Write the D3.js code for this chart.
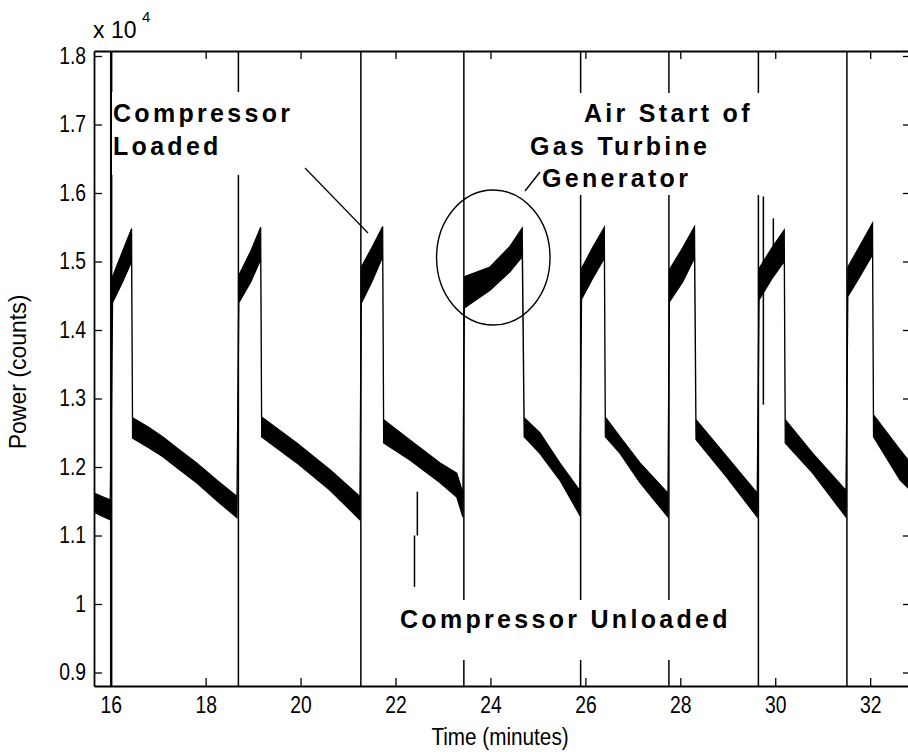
<!DOCTYPE html>
<html>
<head>
<meta charset="utf-8">
<script src="https://cdn.jsdelivr.net/npm/d3@7"></script>
<style>
body{margin:0;background:#fff}
svg text{font-family:"Liberation Sans Narrow","Liberation Sans",Arial,sans-serif;fill:#000}
.note{font-family:"Liberation Sans",Arial,sans-serif !important;font-weight:bold;font-size:25px;letter-spacing:3.3px}
.axis path,.axis line{stroke:#000}
</style>
</head>
<body>
<svg width="908" height="752"></svg>
<script>
//tick values
var xTicks = [16,18,20,22,24,26,28,30,32]
var yTicks = [9000,10000,11000,12000,13000,14000,15000,16000,17000,18000]

//power signal as a band: time (minutes), lower and upper edge (counts)
var sigT  = [15.65,15.82,15.99, 16.04,16.25,16.44, 16.46,16.80,17.10,17.45,17.81,18.25,18.66,
             18.70,18.95,19.16, 19.18,19.92,20.62,21.25,
             21.28,21.50,21.73, 21.75,22.31,22.94,23.29,23.42,
             23.45,23.99,24.41,24.67, 24.71,25.04,25.46,25.88,
             25.92,26.15,26.40, 26.42,26.73,27.15,27.74,
             27.77,28.05,28.30, 28.33,28.98,29.62,
             29.66,29.93,30.19, 30.21,30.79,31.49,
             31.53,31.80,32.05, 32.07,32.63,32.86]
var sigLo = [11340,11280,11230, 14400,14700,15000, 12420,12280,12150,11960,11770,11500,11260,
             14400,14700,15030, 12440,12060,11660,11230,
             14390,14700,15070, 12350,12100,11770,11560,11270,
             14320,14580,14850,15070, 12440,12200,11810,11300,
             14450,14750,15050, 12440,12200,11770,11270,
             14410,14700,15050, 12400,11850,11270,
             14440,14750,15000, 12350,11910,11270,
             14490,14800,15100, 12440,11810,11650]
var sigHi = [11620,11570,11520, 14780,15150,15480, 12720,12580,12440,12250,12060,11800,11570,
             14800,15150,15500, 12730,12350,11960,11570,
             14920,15200,15510, 12690,12390,12060,11910,11620,
             14780,14920,15220,15490, 12720,12500,12060,11660,
             14900,15200,15500, 12730,12440,12060,11620,
             14880,15200,15510, 12690,12150,11620,
             14900,15200,15460, 12690,12200,11660,
             14920,15250,15560, 12760,12250,12050]

//spikes: time, low and high value
var spikeT  = [16.00,16.02,18.69,21.27,22.40,22.46,23.44,25.90,27.76,29.645,29.75,29.96,31.51]
var spikeLo = [8700,8700,8700,8700,10250,11000,8700,8700,8700,8700,12910,14830,8700]
var spikeHi = [18200,18200,18200,18200,11000,11640,18200,18200,18200,18200,15950,15630,18200]

var svg = d3.select("svg")
var xScale = d3.scaleLinear().domain([15.648,32.86]).range([94,911])
var yScale = d3.scaleLinear().domain([8803,18073]).range([686,51])

svg.append("clipPath").attr("id","clip")
   .append("rect").attr("x",94).attr("y",51).attr("width",817).attr("height",635)

var plot = svg.append("g").attr("clip-path","url(#clip)")

var band = d3.area()
   .x(function(d){return xScale(sigT[d])})
   .y0(function(d){return yScale(sigLo[d])})
   .y1(function(d){return yScale(sigHi[d])})

plot.append("path")
   .datum(d3.range(sigT.length))
   .attr("d",band)
   .attr("fill","#000")
   .attr("stroke","#000")
   .attr("stroke-width",1.2)

plot.selectAll(".spike")
   .data(d3.range(spikeT.length))
   .enter().append("line")
   .attr("class","spike")
   .attr("x1",function(d){return xScale(spikeT[d])})
   .attr("x2",function(d){return xScale(spikeT[d])})
   .attr("y1",function(d){return yScale(spikeLo[d])})
   .attr("y2",function(d){return yScale(spikeHi[d])})
   .attr("stroke","#000")
   .attr("stroke-width",1.5)

//white boxes behind the notes
var boxes = [[112,92,195,83],[522,93,240,102],[395,600,340,60]]
boxes.forEach(function(b){
   svg.append("rect").attr("x",b[0]).attr("y",b[1]).attr("width",b[2]).attr("height",b[3]).attr("fill","#fff")
})

//notes
var notes = svg.append("g")
notes.append("text").attr("class","note").attr("x",113).attr("y",122).text("Compressor")
notes.append("text").attr("class","note").attr("x",113).attr("y",155).text("Loaded")
notes.append("text").attr("class","note").attr("x",584).attr("y",122).text("Air Start of")
notes.append("text").attr("class","note").attr("x",530).attr("y",155).text("Gas Turbine")
notes.append("text").attr("class","note").attr("x",542).attr("y",187).text("Generator")
notes.append("text").attr("class","note").attr("x",400).attr("y",628).text("Compressor Unloaded")

notes.append("line").attr("x1",305).attr("y1",168).attr("x2",368).attr("y2",233)
   .attr("stroke","#000").attr("stroke-width",1.2)
notes.append("line").attr("x1",525).attr("y1",191).attr("x2",540).attr("y2",172)
   .attr("stroke","#000").attr("stroke-width",1.4)

var cx = 24.06, cy = 15058
notes.append("ellipse")
   .attr("cx",xScale(cx)).attr("cy",yScale(cy))
   .attr("rx",xScale(cx+1.195)-xScale(cx))
   .attr("ry",yScale(cy-985)-yScale(cy))
   .attr("fill","none").attr("stroke","#000").attr("stroke-width",1.4)

//axes, ticks inside like matlab
var xAxis = d3.axisBottom(xScale).tickValues(xTicks).tickSizeInner(-8).tickSizeOuter(0).tickPadding(11)
var yAxis = d3.axisLeft(yScale).tickValues(yTicks).tickSizeInner(-8).tickSizeOuter(0).tickPadding(8)
   .tickFormat(function(d){return String(d/10000)})

svg.append("g").attr("class","axis").attr("transform","translate(0,686)").call(xAxis)
svg.append("g").attr("class","axis").attr("transform","translate(94,0)").call(yAxis)
svg.append("g").attr("class","axis").attr("transform","translate(0,51)")
   .call(d3.axisTop(xScale).tickValues(xTicks).tickSizeInner(-8).tickSizeOuter(0).tickFormat(""))
svg.append("g").attr("class","axis").attr("transform","translate(911,0)")
   .call(d3.axisRight(yScale).tickValues(yTicks).tickSizeInner(-8).tickSizeOuter(0).tickFormat(""))

svg.selectAll(".axis path").attr("stroke-width",1.8)
svg.selectAll(".axis line").attr("stroke-width",1.3)
svg.selectAll(".axis text").attr("font-size",23).attr("font-family",null)

//narrow the tick labels like the matlab font
svg.selectAll(".axis text").each(function(){
   var w = this.getComputedTextLength()
   d3.select(this).attr("textLength",w*0.84).attr("lengthAdjust","spacingAndGlyphs")
})

//labels
var xlab = svg.append("text").attr("x",500).attr("y",745).attr("text-anchor","middle")
   .attr("font-size",23).text("Time (minutes)")
xlab.attr("textLength",xlab.node().getComputedTextLength()*0.9).attr("lengthAdjust","spacingAndGlyphs")
svg.append("text").attr("transform","translate(26,372) rotate(-90)").attr("text-anchor","middle")
   .attr("font-size",23).text("Power (counts)")
svg.append("text").attr("x",93).attr("y",38).attr("font-size",23).text("x 10")
svg.append("text").attr("x",142).attr("y",22).attr("font-size",15).text("4")
</script>
</body>
</html>
